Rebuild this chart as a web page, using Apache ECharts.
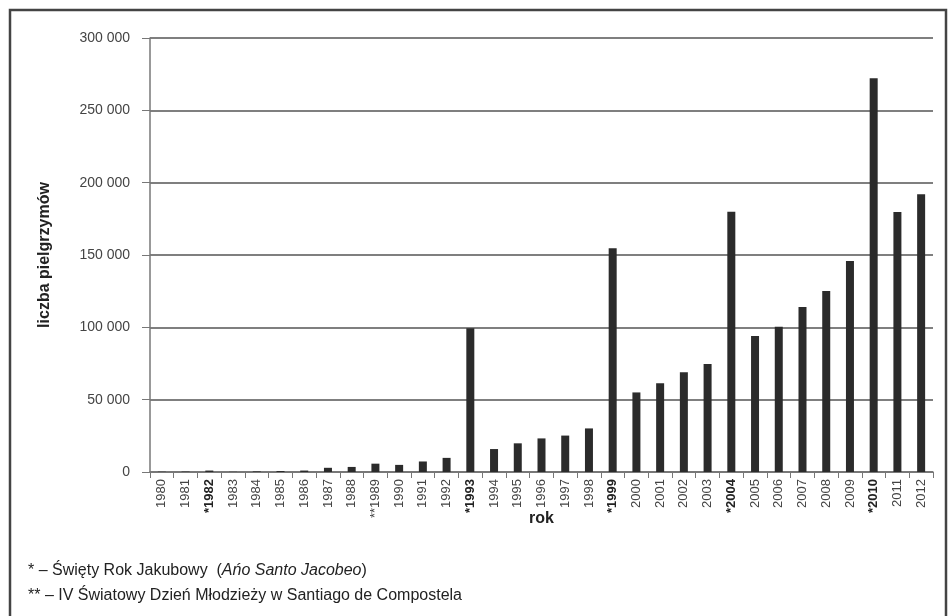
<!DOCTYPE html>
<html><head><meta charset="utf-8">
<script src="https://cdn.jsdelivr.net/npm/echarts@6/dist/echarts.min.js"></script>
<style>html,body{margin:0;padding:0;background:#fff}#c{width:951px;height:616px}</style>
</head><body><div id="c"></div>
<script>
const years = ['1980','1981','1982','1983','1984','1985','1986','1987','1988','1989','1990','1991','1992','1993','1994','1995','1996','1997','1998','1999','2000','2001','2002','2003','2004','2005','2006','2007','2008','2009','2010','2011','2012'];
const pilgrims = [209,299,1000,146,423,690,1000,2905,3501,5760,4918,7274,9764,99436,15863,19821,23218,25179,30126,154613,55004,61418,68952,74614,179944,93924,100377,114026,125141,145877,272135,179800,192000];
const holyYears = ['1982','1993','1999','2004','2010'];
const youthDayYears = ['1989'];
const yTicks = [0,50000,100000,150000,200000,250000,300000];
const FONT = '"Liberation Sans Narrow","Liberation Sans",Arial,sans-serif';

const chart = echarts.init(document.getElementById('c'));
chart.setOption({
  backgroundColor:'#fff',
  animation:false,
  grid:{left:150,right:18,top:38,bottom:144},
  graphic:[
    {type:'rect',shape:{x:10,y:10,width:936,height:620},style:{fill:'none',stroke:'#444',lineWidth:2.5}},
    {type:'text',left:28,top:563,style:{rich:{
      n:{fontFamily:FONT,fontSize:16,fill:'#222'},
      i:{fontFamily:FONT,fontSize:16,fontStyle:'italic',fill:'#222'}},
      text:'{n|* – Święty Rok Jakubowy  (}{i|Ańo Santo Jacobeo}{n|)}'}},
    {type:'text',left:28,top:588,style:{fontFamily:FONT,fontSize:16,fill:'#222',
      text:'** – IV Światowy Dzień Młodzieży w Santiago de Compostela'}}
  ],
  xAxis:{
    type:'category',data:years,
    name:'rok',nameLocation:'middle',nameGap:39,nameMoveOverlap:false,
    nameTextStyle:{fontFamily:FONT,fontSize:16,fontWeight:'bold',color:'#222'},
    axisLine:{lineStyle:{color:'#777',width:1.5}},
    axisTick:{show:true,alignWithLabel:false,length:6,lineStyle:{color:'#777'}},
    axisLabel:{rotate:90,interval:0,fontFamily:FONT,fontSize:13,color:'#444',margin:7,
      formatter:function(v){
        if(holyYears.indexOf(v)>=0) return '{b|*'+v+'}';
        if(youthDayYears.indexOf(v)>=0) return '{n|**'+v+'}';
        return v;
      },
      rich:{b:{fontFamily:FONT,fontSize:13,fontWeight:'bold',color:'#222'},n:{fontFamily:FONT,fontSize:13,color:'#444'}}
    }
  },
  yAxis:{
    type:'value',min:0,max:300000,interval:50000,
    name:'liczba pielgrzymów',nameLocation:'middle',nameGap:97,nameMoveOverlap:false,
    nameTextStyle:{fontFamily:FONT,fontSize:16,fontWeight:'bold',color:'#222'},
    axisLine:{show:true,lineStyle:{color:'#777',width:1.5}},
    axisTick:{show:true,length:8,lineStyle:{color:'#777'}},
    splitLine:{lineStyle:{color:'#555',width:1.5}},
    axisLabel:{fontFamily:FONT,fontSize:14,color:'#444',margin:20,
      formatter:function(v){return yTicks.indexOf(v)>=0 ? String(v).replace(/\B(?=(\d{3})+(?!\d))/g,' ') : '';}}
  },
  series:[{type:'bar',data:pilgrims,barWidth:8,itemStyle:{color:'#2b2b2b'}}]
});
</script></body></html>
